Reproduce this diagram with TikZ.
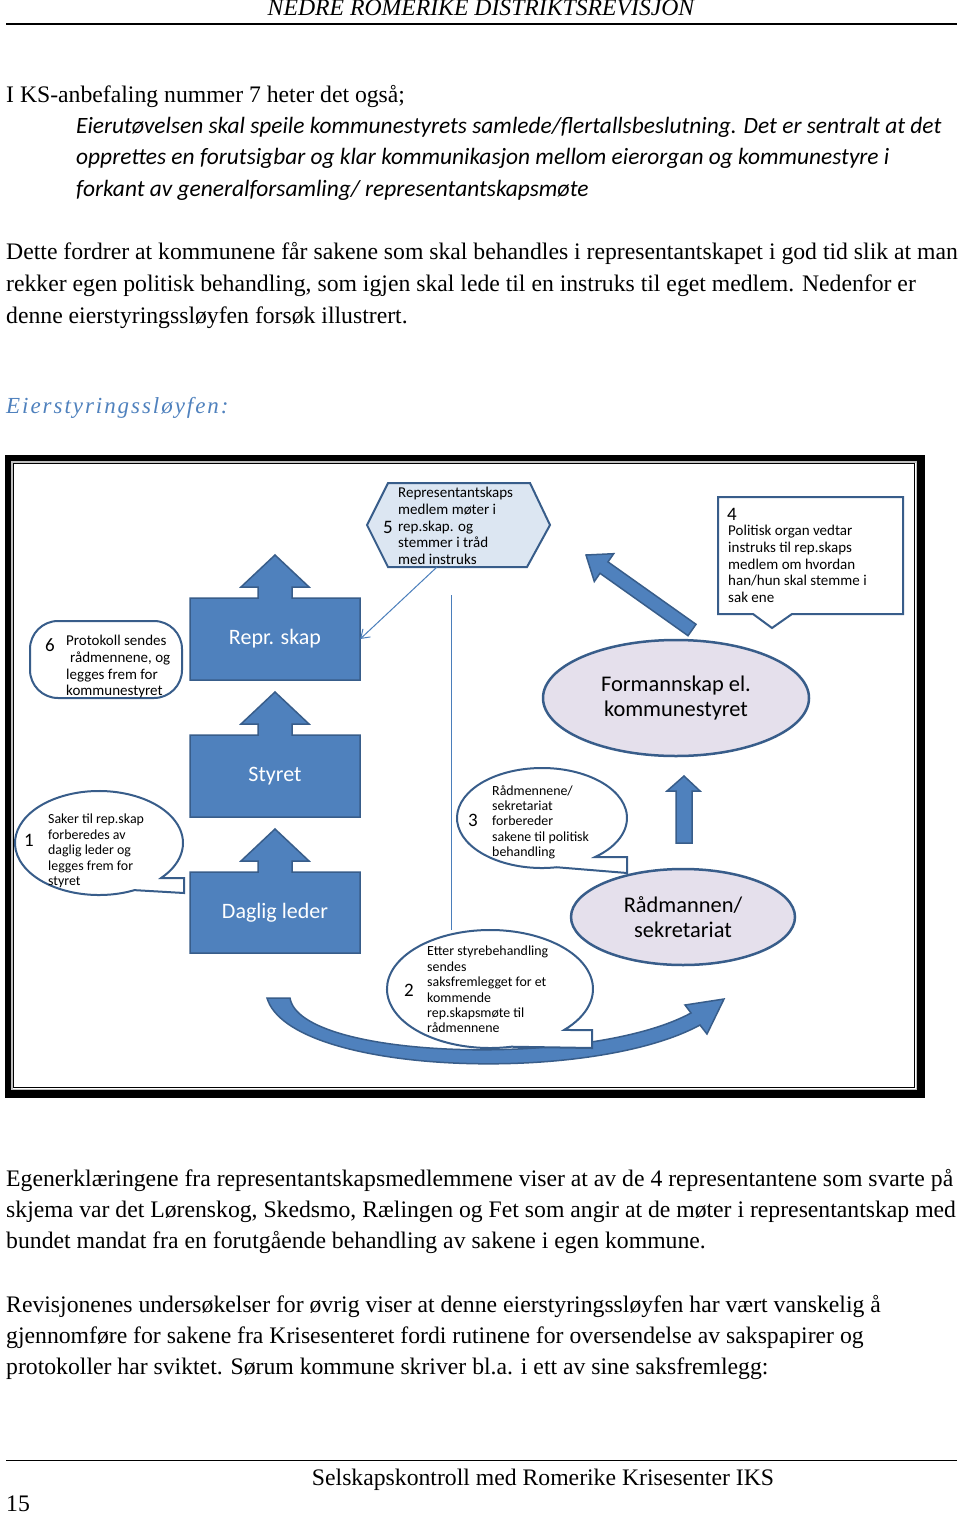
\documentclass[tikz,border=0pt]{standalone}
\usepackage{fontspec}
\setmainfont{Liberation Serif}
\newfontfamily\calibri{Carlito}
\newfontfamily\headfont[LetterSpace=8.5]{Liberation Serif}
\usepackage{xcolor}
\usetikzlibrary{arrows.meta,shapes.geometric}
\definecolor{boxblue}{RGB}{79,129,189}
\definecolor{edgeblue}{RGB}{56,93,138}
\definecolor{hexfill}{RGB}{220,230,242}
\definecolor{ovalfill}{RGB}{229,224,236}
\definecolor{lineblue}{RGB}{74,126,187}
\tikzset{
  bodyline/.style={anchor=base west, inner sep=0, font=\fontsize{23.7}{28}\selectfont},
  quoteline/.style={anchor=base west, inner sep=0, font=\calibri\itshape\fontsize{23.4}{28}\selectfont},
  bubble/.style={draw=edgeblue, line width=2, fill=white},
  smalltext/.style={anchor=north west, inner sep=0, align=left, font=\calibri\fontsize{13.9}{15.4}\selectfont},
  midtext/.style={anchor=north west, inner sep=0, align=left, font=\calibri\fontsize{15}{16.7}\selectfont},
  bignum/.style={inner sep=0, font=\calibri\fontsize{19}{19}\selectfont},
  blockshape/.style={fill=boxblue, draw=edgeblue, line width=1.5},
  blocktext/.style={text=white, font=\calibri\fontsize{22}{25}\selectfont, minimum width=170, minimum height=82, inner sep=0},
  oval/.style={ellipse, draw=edgeblue, line width=2.5, fill=ovalfill, inner sep=0, align=center, font=\calibri\fontsize{22.4}{25}\selectfont}
}
\begin{document}
\begin{tikzpicture}[x=1pt,y=-1pt]
  \newcommand{\upblock}[4]{
    \draw[blockshape] (190,#2) -- (190,#1) -- (258,#1) -- (258,#1-11) -- (241,#1-11) -- (275,#1-43) -- (309,#1-11) -- (292,#1-11) -- (292,#1) -- (360,#1) -- (360,#2) -- cycle;
    \node[blocktext] (#3) at (275,{(#1+#2)/2}) {#4}
  }
  \useasboundingbox (0,0) rectangle (960,1514);

  \node[anchor=base, inner sep=0, font=\itshape\fontsize{23.7}{28}\selectfont] (header) at (481,16) {NEDRE ROMERIKE DISTRIKTSREVISJON};
  \draw[line width=1.5] (6,24) -- (957,24);

  \node[bodyline] (l1) at (6,103) {I KS-anbefaling nummer 7 heter det også;};
  \node[quoteline] (q1) at (76,134) {Eierutøvelsen skal speile kommunestyrets samlede/flertallsbeslutning. Det er sentralt at det};
  \node[quoteline] (q2) at (76,165) {opprettes en forutsigbar og klar kommunikasjon mellom eierorgan og kommunestyre i};
  \node[quoteline] (q3) at (76,197) {forkant av generalforsamling/ representantskapsmøte};
  \node[bodyline] (l2) at (6,259) {Dette fordrer at kommunene får sakene som skal behandles i representantskapet i god tid slik at man};
  \node[bodyline] (l3) at (6,291) {rekker egen politisk behandling, som igjen skal lede til en instruks til eget medlem. Nedenfor er};
  \node[bodyline] (l4) at (6,323) {denne eierstyringssløyfen forsøk illustrert.};
  \node[anchor=base west, inner sep=0, text=boxblue, font=\headfont\itshape\fontsize{23}{26}\selectfont] (title) at (6,413) {Eierstyringssløyfen:};

  \fill[black] (5,455) rectangle (925,1098);
  \fill[white] (11,461) rectangle (917,1090);
  \draw[gray!50, line width=1.5] (11.75,461.75) rectangle (916.25,1089.25);
  \draw[black, line width=0.8] (13.5,463.5) rectangle (914.5,1087.5);

  \draw[lineblue, line width=1] (451,595) -- (451,930);

  \draw[bubble, fill=hexfill] (367,525) -- (388,483) -- (530,483) -- (550,525) -- (527,567) -- (388,567) -- cycle;
  \node[bignum] (n5) at (388,527) {5};
  \node[midtext] (hex) at (398,487) {Representantskaps\\medlem møter i\\rep.skap. og\\stemmer i tråd\\med instruks};
  \coordinate (hexfoot) at (437,567);

  \draw[bubble] (718,497) -- (903,497) -- (903,614) -- (792,614) -- (772,628) -- (753,614) -- (718,614) -- cycle;
  \node[bignum, anchor=west] (n4) at (727,514) {4};
  \node[midtext] (instr) at (728,525) {Politisk organ vedtar\\instruks til rep.skaps\\medlem om hvordan\\han/hun skal stemme i\\sak ene};

  \draw[bubble, rounded corners=28] (30,621) rectangle (182,698);
  \node[bignum] (n6) at (50,645) {6};
  \node[midtext] (proto) at (66,635) {Protokoll sendes\\\hspace{4pt}rådmennene, og\\legges frem for\\kommunestyret};

  \upblock{598}{680}{repr}{Repr. skap};
  \upblock{735}{817}{styret}{Styret};
  \upblock{872}{953}{daglig}{Daglig leder};

  \draw[lineblue, line width=1, -{Straight Barb[length=8,width=11]}] (hexfoot) -- (repr.east);

  \draw[blockshape] (696,624.3) -- (688,635.7) -- (600,573.3) -- (594.3,581.5) -- (586,555) -- (613.7,553.7) -- (608,561.9) -- cycle;

  \node[oval, minimum width=266, minimum height=116] (forman) at (676,698) {Formannskap el.\\kommunestyret};
  \node[oval, minimum width=224, minimum height=96] (radmann) at (683,917) {Rådmannen/\\sekretariat};

  \draw[blockshape] (676,843) -- (676,791) -- (667,791) -- (684,776) -- (700,791) -- (692,791) -- (692,843) -- cycle;

  \draw[bubble] (184,893) -- ([shift={(65:84 and 52)}]99,843) arc[start angle=65, end angle=402.3, x radius=84, y radius=52] -- (184,878) -- cycle;
  \node[bignum] (n1) at (29,840) {1};
  \node[smalltext] (saker) at (48,814) {Saker til rep.skap\\forberedes av\\daglig leder og\\legges frem for\\styret};

  \draw[bubble] (627,873) -- ([shift={(80:85 and 50)}]542,818) arc[start angle=80, end angle=411.3, x radius=85, y radius=50] -- (627,857) -- cycle;
  \node[bignum] (n3) at (473,820) {3};
  \node[smalltext] (forb) at (492,785) {Rådmennene/\\sekretariat\\forbereder\\sakene til politisk\\behandling};

  \draw[blockshape] (267,998) .. controls (290,1075) and (590,1085) .. (700,1025) -- (707,1034) -- (724,999) -- (685,1005) -- (691,1013) .. controls (590,1068) and (300,1060) .. (290,998) -- cycle;

  \draw[bubble] (592,1048) -- ([shift={(78:103 and 59)}]490,989) arc[start angle=78, end angle=404, x radius=103, y radius=59] -- (592,1030) -- cycle;
  \node[bignum] (n2) at (409,990) {2};
  \node[smalltext] (etter) at (427,946) {Etter styrebehandling\\sendes\\saksfremlegget for et\\kommende\\rep.skapsmøte til\\rådmennene};

  \node[bodyline] (l5) at (6,1186) {Egenerklæringene fra representantskapsmedlemmene viser at av de 4 representantene som svarte på};
  \node[bodyline] (l6) at (6,1217) {skjema var det Lørenskog, Skedsmo, Rælingen og Fet som angir at de møter i representantskap med};
  \node[bodyline] (l7) at (6,1248) {bundet mandat fra en forutgående behandling av sakene i egen kommune.};
  \node[bodyline] (l8) at (6,1312) {Revisjonenes undersøkelser for øvrig viser at denne eierstyringssløyfen har vært vanskelig å};
  \node[bodyline] (l9) at (6,1343) {gjennomføre for sakene fra Krisesenteret fordi rutinene for oversendelse av sakspapirer og};
  \node[bodyline] (l10) at (6,1374) {protokoller har sviktet. Sørum kommune skriver bl.a. i ett av sine saksfremlegg:};

  \draw[line width=1] (6,1460) -- (957,1460);
  \node[anchor=base, inner sep=0, font=\fontsize{23.7}{28}\selectfont] (footer) at (543,1485) {Selskapskontroll med Romerike Krisesenter IKS};
  \node[bodyline] (page) at (6,1511) {15};
\end{tikzpicture}
\end{document}
